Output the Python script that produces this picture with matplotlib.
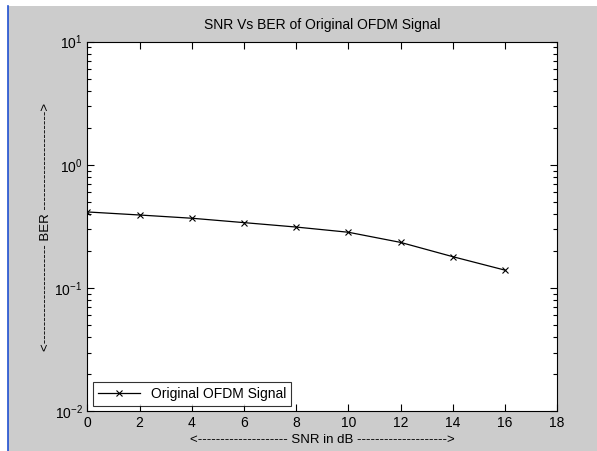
import matplotlib
matplotlib.use("Agg")
import matplotlib.pyplot as plt
from matplotlib.patches import Rectangle
from matplotlib.lines import Line2D
from matplotlib.ticker import LogLocator, FixedLocator

plt.rcParams['font.family'] = ['Liberation Sans', 'DejaVu Sans']

snr_db = [0, 2, 4, 6, 8, 10, 12, 14, 16]
ber = [0.415, 0.392, 0.369, 0.340, 0.313, 0.284, 0.235, 0.180, 0.140]
x_ticks = [0, 2, 4, 6, 8, 10, 12, 14, 16, 18]

W, H = 597, 451
fig = plt.figure(figsize=(W / 100, H / 100), dpi=100, facecolor='white')

# gray figure panel and left blue edge
fig.patches.append(Rectangle((8 / W, 0), 1 - 8 / W, (H - 6) / H,
                             transform=fig.transFigure, facecolor='#cccccc',
                             edgecolor='none', zorder=-10))
fig.lines.append(Line2D([7.5 / W, 7.5 / W], [0, (H - 6) / H],
                        transform=fig.transFigure, color='#2050d0', lw=1.2))

left, right, top, bottom = 87.5, 557, 41.7, 411.3
ax = fig.add_axes([left / W, 1 - bottom / H, (right - left) / W, (bottom - top) / H])
ax.set_facecolor('white')

ax.plot(snr_db, ber, color='black', lw=0.9, marker='x', markersize=4,
        markeredgewidth=0.8, label='Original OFDM Signal')

ax.set_yscale('log')
ax.set_ylim(1e-2, 1e1)
ax.set_xlim(0, 18)
ax.xaxis.set_major_locator(FixedLocator(x_ticks))
ax.yaxis.set_major_locator(LogLocator(base=10, numticks=10))
ax.yaxis.set_minor_locator(LogLocator(base=10, subs=range(2, 10), numticks=20))

for s in ax.spines.values():
    s.set_color('black')
    s.set_linewidth(0.8)

ax.tick_params(which='both', direction='in', top=True, right=True,
               labelsize=10, colors='black')
ax.tick_params(which='major', length=5, width=0.8)
ax.tick_params(which='minor', length=3, width=0.8)

ax.set_title('SNR Vs BER of Original OFDM Signal', fontsize=10, pad=9)
ax.set_xlabel('<' + '-' * 20 + ' SNR in dB ' + '-' * 20 + '>', fontsize=9.5, labelpad=3)
ax.set_ylabel('<' + '-' * 22 + ' BER ' + '-' * 22 + '>', fontsize=9.5, labelpad=2)

leg = ax.legend(loc='lower left', fontsize=10, frameon=True, fancybox=False,
                borderaxespad=0.4, handlelength=3.0, borderpad=0.35)
leg.get_frame().set_edgecolor('black')
leg.get_frame().set_linewidth(0.8)

fig.savefig('out.png', dpi=100, facecolor=fig.get_facecolor())
